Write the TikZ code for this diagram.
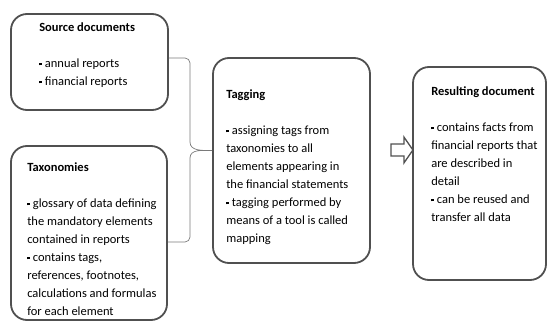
\documentclass[tikz,border=0pt]{standalone}
\usepackage{fontspec}
\setmainfont{Carlito}
\usepackage{xcolor}
\usetikzlibrary{positioning,calc}

\definecolor{boxline}{HTML}{505050}
\definecolor{braceline}{HTML}{7A7A7A}
\newcommand{\itm}{\raisebox{0.3ex}{\rule{2.6pt}{2.6pt}}\hspace{3pt}}

\begin{document}
\begin{tikzpicture}[x=1pt, y=1pt,
    box/.style={draw=boxline, line width=1.8pt, rounded corners=16pt, fill=white},
    txt/.style={anchor=north west, inner sep=0pt, align=left, font=\fontsize{12.5}{18}\selectfont},
    brace/.style={draw=braceline, line width=0.7pt}]
    \useasboundingbox (0,0) rectangle (548,322);

    % Source documents
    \node[box, minimum width=157, minimum height=96] (src) at (89.5,260) {};
    \node[txt] (srct) at ($(src.north west)+(29,-9)$)
        {\textbf{Source documents}\\[18pt]\itm annual reports\\\itm financial reports};

    % Taxonomies
    \node[box, minimum width=156, minimum height=174] (tax) at (89,89) {};
    \node[txt] (taxt) at ($(tax.north west)+(17,-17)$)
        {\textbf{Taxonomies}\\[18pt]\itm glossary of data defining\\the mandatory elements\\contained in reports\\\itm contains tags,\\references, footnotes,\\calculations and formulas\\for each element};

    % Tagging
    \node[box, minimum width=157, minimum height=205] (tag) at (291.5,161.5) {};
    \node[txt] (tagt) at ($(tag.north west)+(14,-32)$)
        {\textbf{Tagging}\\[18pt]\itm assigning tags from\\taxonomies to all\\elements appearing in\\the financial statements\\\itm tagging performed by\\means of a tool is called\\mapping};

    % Resulting document
    \node[box, minimum width=133, minimum height=213] (res) at (479.5,148.5) {};
    \node[txt] (rest) at ($(res.north west)+(19,-20)$)
        {\textbf{Resulting document}\\[18pt]\itm contains facts from\\financial reports that\\are described in\\detail\\\itm can be reused and\\transfer all data};

    % brace joining the two inputs
    \draw[brace] ([yshift=4pt]src.east) -- (185,264) to[out=0,in=90] (190,259)
        -- (190,180) to[out=-90,in=180] ([yshift=10pt]tag.west)
        to[out=180,in=90] (190,164) -- (190,85) to[out=-90,in=0] (185,80) -- ([yshift=-9pt]tax.east);

    % hollow arrow to the result
    \coordinate (arr) at ($(tag.east)+(20,10.5)$);
    \draw[draw=boxline, line width=1.3pt, line join=miter]
        (arr) ++(0,-6) -- ++(13,0) -- ++(0,-7) -- ++(9,13) -- ++(-9,13) -- ++(0,-7) -- ++(-13,0) -- cycle;
\end{tikzpicture}
\end{document}
